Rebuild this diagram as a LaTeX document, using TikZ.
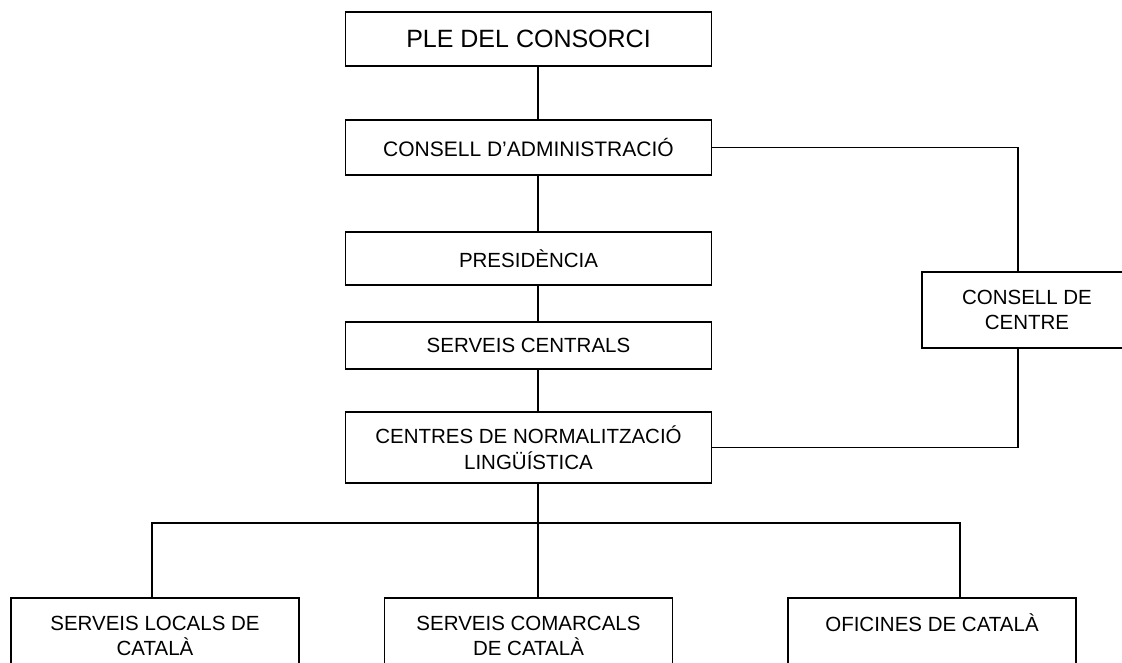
\documentclass[tikz,border=0pt]{standalone}
\usepackage{fontspec}
\setmainfont{Liberation Sans}
\begin{document}
\begin{tikzpicture}[x=1pt,y=-1pt,
  box/.style={draw, line width=1.8pt, minimum width=366pt, align=center, inner sep=0pt,
    font=\fontsize{20.5}{25.7}\selectfont},
  lowbox/.style={box, minimum width=288pt, minimum height=76pt, anchor=north},
  link/.style={line width=1.8pt}]
\useasboundingbox (0,0) rectangle (1122,663);
\clip (0,0) rectangle (1122,663);
\node[box, minimum height=54pt, font=\fontsize{25}{30}\selectfont] (ple) at (528.5,39) {PLE DEL CONSORCI};
\node[box, minimum height=55pt, font=\fontsize{21}{25}\selectfont] (cda) at (528.5,147.5) {CONSELL D’ADMINISTRACIÓ};
\node[box, minimum height=53pt] (pres) at (528.5,258.5) {PRESIDÈNCIA};
\node[box, minimum height=47pt] (sc) at (528.5,345.5) {SERVEIS CENTRALS};
\node[box, minimum height=71pt] (cnl) at (528.5,447.5) {CENTRES DE NORMALITZACIÓ\\LINGÜÍSTICA};
\node[box, minimum width=210pt, minimum height=76pt] (cc) at (1027,310) {CONSELL DE\\CENTRE};
\node[lowbox] (slc) at (155,597) {SERVEIS LOCALS DE\\CATALÀ};
\node[lowbox] (scc) at (528.5,597) {SERVEIS COMARCALS\\DE CATALÀ};
\node[lowbox] (ofc) at (932,597) {OFICINES DE CATALÀ\\\mbox{}};
\coordinate (axis) at (538,0);
\coordinate (side) at (1018,0);
\coordinate (dl) at (152,523);
\coordinate (dm) at (538,523);
\coordinate (dr) at (960,523);
\draw[link] (ple.south -| axis) -- (cda.north -| axis);
\draw[link] (cda.south -| axis) -- (pres.north -| axis);
\draw[link] (pres.south -| axis) -- (sc.north -| axis);
\draw[link] (sc.south -| axis) -- (cnl.north -| axis);
\draw[link] (cda.east) -| (cc.north -| side);
\draw[link] (cc.south -| side) |- (cnl.east);
\draw[link] (cnl.south -| axis) -- (scc.north -| dm);
\draw[link] (slc.north -| dl) -- (dl) -- (dr) -- (ofc.north -| dr);
\end{tikzpicture}
\end{document}
